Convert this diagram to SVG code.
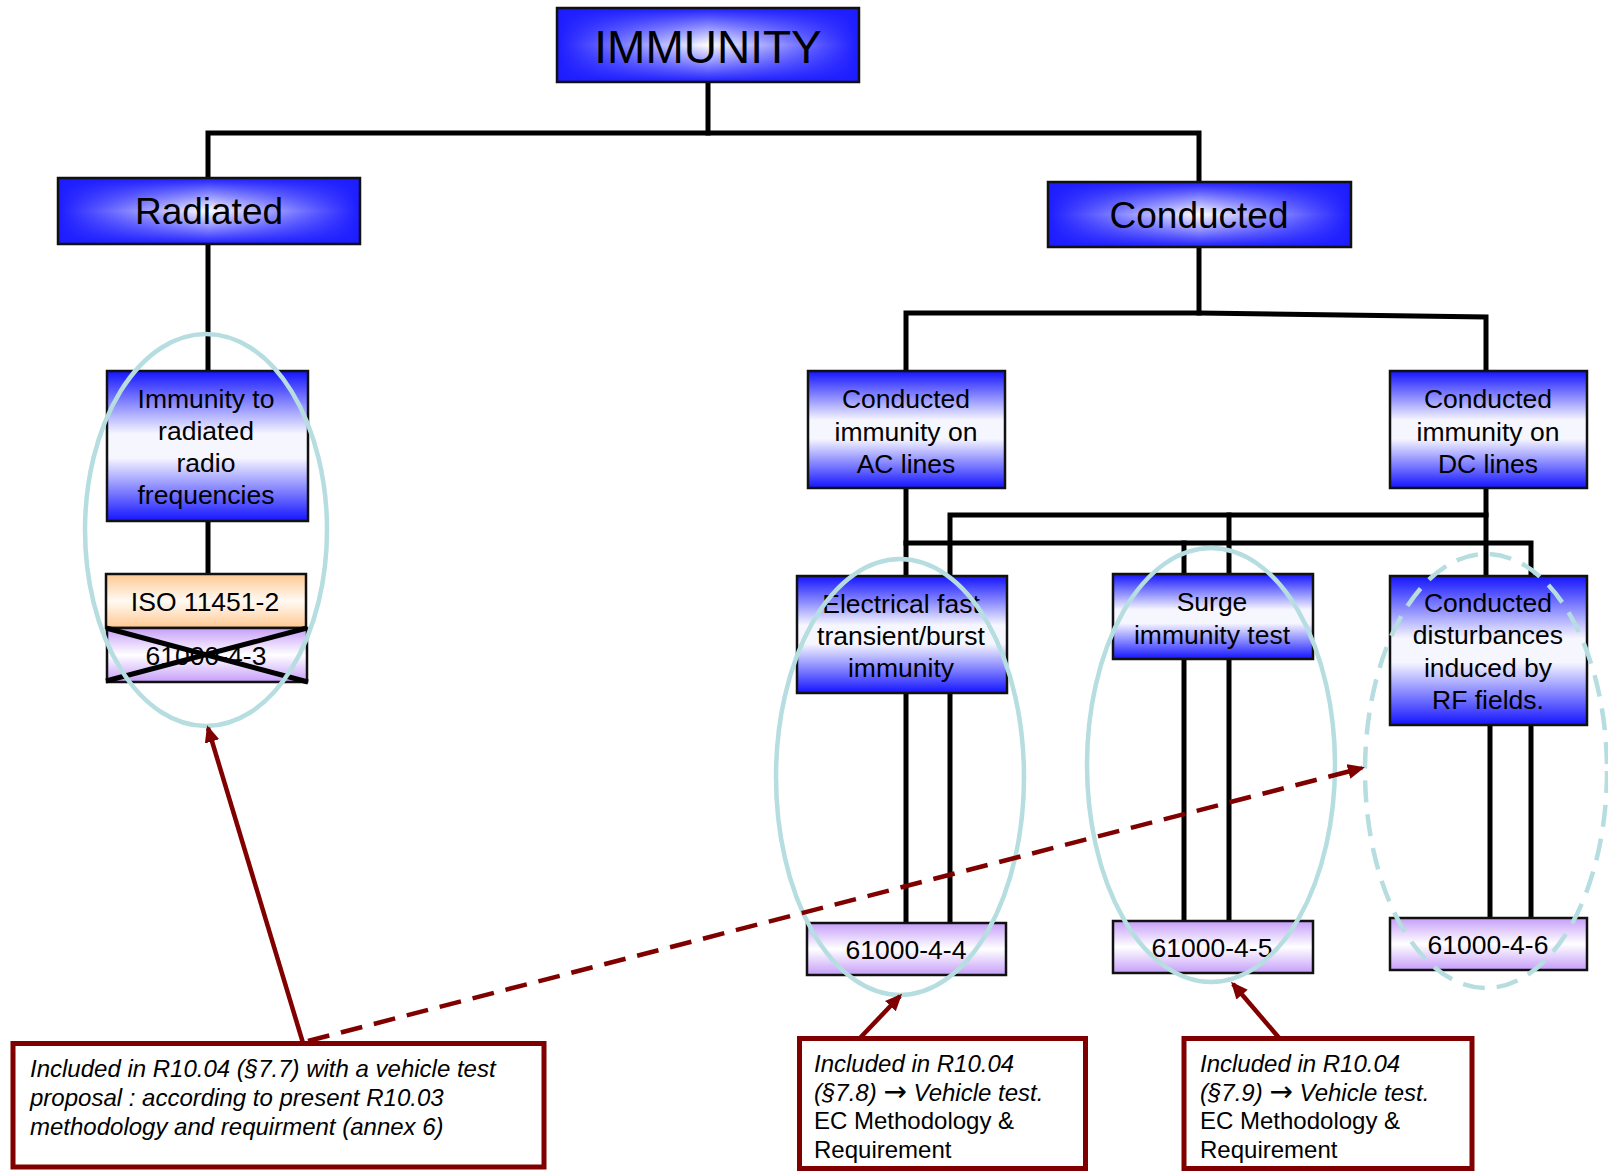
<svg xmlns="http://www.w3.org/2000/svg" width="1608" height="1171" viewBox="0 0 1608 1171">
<style>
.ln{stroke:#000;stroke-width:5;fill:none;stroke-linecap:square;stroke-linejoin:miter}
.bx{stroke:#111;stroke-width:2.5}
.t{font-family:"Liberation Sans",Arial,sans-serif;text-anchor:middle;fill:#000}
.s{font-size:26.5px}
.big{font-size:37px}
.ell{fill:none;stroke:#b6dde0;stroke-width:4.5}
.dash{stroke-dasharray:22 12}
.red{stroke:#800000;stroke-width:4.5;fill:none}
.call{fill:#fff;stroke:#800000;stroke-width:5}
.ct{font-family:"Liberation Sans",Arial,sans-serif;font-size:24px;fill:#000}
.it{font-style:italic}
.arr{font-family:"DejaVu Sans",sans-serif;font-style:normal;font-size:28px}
.cross{stroke:#000;stroke-width:5}
</style>
<defs>
<linearGradient id="hB" x1="0" y1="0" x2="1" y2="0">
<stop offset="0" stop-color="#1c1cff"/><stop offset="0.5" stop-color="#ffffff"/><stop offset="1" stop-color="#1c1cff"/>
</linearGradient>
<linearGradient id="vBa" x1="0" y1="0" x2="0" y2="1">
<stop offset="0" stop-color="#1c1cff" stop-opacity="1"/><stop offset="0.5" stop-color="#1c1cff" stop-opacity="0"/><stop offset="1" stop-color="#1c1cff" stop-opacity="1"/>
</linearGradient>
<linearGradient id="vB" x1="0" y1="0" x2="0" y2="1">
<stop offset="0" stop-color="#1414ff"/><stop offset="0.42" stop-color="#f6f6ff"/><stop offset="0.58" stop-color="#f6f6ff"/><stop offset="1" stop-color="#1414ff"/>
</linearGradient>
<linearGradient id="vP" x1="0" y1="0" x2="0" y2="1">
<stop offset="0" stop-color="#c69ef9"/><stop offset="0.5" stop-color="#ffffff"/><stop offset="1" stop-color="#c69ef9"/>
</linearGradient>
<linearGradient id="vO" x1="0" y1="0" x2="0" y2="1">
<stop offset="0" stop-color="#ffc891"/><stop offset="0.5" stop-color="#fffaf4"/><stop offset="1" stop-color="#ffc891"/>
</linearGradient>
<marker id="ah" markerUnits="userSpaceOnUse" markerWidth="18" markerHeight="16" refX="14" refY="7.5" orient="auto">
<path d="M0,0 L17,7.5 L0,15 z" fill="#800000"/>
</marker>
</defs>

<g id="connectors">
<path class="ln" d="M708 82 V133"/>
<path class="ln" d="M208 178 V133 H1199 V182"/>
<path class="ln" d="M208 244 V371"/>
<path class="ln" d="M208 521 V574"/>
<path class="ln" d="M1199 247 V313"/>
<path class="ln" d="M906 371 V313 H1199 L1486 317 V371"/>
<path class="ln" d="M906 488 V576"/>
<path class="ln" d="M1486 488 V576"/>
<path class="ln" d="M950 576 V515 H1486"/>
<path class="ln" d="M906 543 H1531 V576"/>
<path class="ln" d="M1184 543 V574"/>
<path class="ln" d="M1229 515 V574"/>
<path class="ln" d="M906 693 V923"/>
<path class="ln" d="M950 693 V923"/>
<path class="ln" d="M1184 659 V921"/>
<path class="ln" d="M1229 659 V921"/>
<path class="ln" d="M1490 725 V918"/>
<path class="ln" d="M1531 725 V918"/>
</g>

<g id="node-immunity">
<rect x="557" y="8" width="302" height="74" fill="url(#hB)"/>
<rect class="bx" x="557" y="8" width="302" height="74" fill="url(#vBa)"/>
<text class="t" x="708" y="63" font-size="46">IMMUNITY</text>
</g>
<g id="node-radiated">
<rect x="58" y="178" width="302" height="66" fill="url(#hB)"/>
<rect class="bx" x="58" y="178" width="302" height="66" fill="url(#vBa)"/>
<text class="t big" x="209" y="224">Radiated</text>
</g>
<g id="node-conducted">
<rect x="1048" y="182" width="303" height="65" fill="url(#hB)"/>
<rect class="bx" x="1048" y="182" width="303" height="65" fill="url(#vBa)"/>
<text class="t big" x="1199" y="228">Conducted</text>
</g>
<g id="node-radiated-rf">
<rect class="bx" x="107" y="371" width="201" height="150" fill="url(#vB)"/>
<text class="t s" x="206"><tspan x="206" y="408">Immunity to</tspan><tspan x="206" y="440">radiated</tspan><tspan x="206" y="472">radio</tspan><tspan x="206" y="504">frequencies</tspan></text>
</g>
<g id="node-ac">
<rect class="bx" x="808" y="371" width="197" height="117" fill="url(#vB)"/>
<text class="t s" x="906"><tspan x="906" y="408">Conducted</tspan><tspan x="906" y="441">immunity on</tspan><tspan x="906" y="473">AC lines</tspan></text>
</g>
<g id="node-dc">
<rect class="bx" x="1390" y="371" width="197" height="117" fill="url(#vB)"/>
<text class="t s" x="1488"><tspan x="1488" y="408">Conducted</tspan><tspan x="1488" y="441">immunity on</tspan><tspan x="1488" y="473">DC lines</tspan></text>
</g>
<g id="node-iso">
<rect class="bx" x="106" y="574" width="200" height="54" fill="url(#vO)"/>
<text class="t s" x="205" y="611">ISO 11451-2</text>
</g>
<g id="node-61000-4-3">
<rect class="bx" x="107" y="628" width="200" height="54" fill="url(#vP)"/>
<text class="t s" x="206" y="665">61000-4-3</text>
<line class="cross" x1="106" y1="628" x2="308" y2="682"/>
<line class="cross" x1="307" y1="628" x2="106" y2="681"/>
</g>
<g id="node-eft">
<rect class="bx" x="797" y="576" width="210" height="117" fill="url(#vB)"/>
<text class="t s" x="901"><tspan x="901" y="613">Electrical fast</tspan><tspan x="901" y="645">transient/burst</tspan><tspan x="901" y="677">immunity</tspan></text>
</g>
<g id="node-surge">
<rect class="bx" x="1113" y="574" width="200" height="85" fill="url(#vB)"/>
<text class="t s" x="1212"><tspan x="1212" y="611">Surge</tspan><tspan x="1212" y="644">immunity test</tspan></text>
</g>
<g id="node-rf">
<rect class="bx" x="1390" y="576" width="197" height="149" fill="url(#vB)"/>
<text class="t s" x="1488"><tspan x="1488" y="612">Conducted</tspan><tspan x="1488" y="644">disturbances</tspan><tspan x="1488" y="677">induced by</tspan><tspan x="1488" y="709">RF fields.</tspan></text>
</g>
<g id="node-61000-4-4">
<rect class="bx" x="807" y="923" width="199" height="52" fill="url(#vP)"/>
<text class="t s" x="906" y="959">61000-4-4</text>
</g>
<g id="node-61000-4-5">
<rect class="bx" x="1113" y="921" width="200" height="52" fill="url(#vP)"/>
<text class="t s" x="1212" y="957">61000-4-5</text>
</g>
<g id="node-61000-4-6">
<rect class="bx" x="1390" y="918" width="197" height="52" fill="url(#vP)"/>
<text class="t s" x="1488" y="954">61000-4-6</text>
</g>

<g id="highlights">
<ellipse class="ell" cx="206" cy="530" rx="121" ry="196"/>
<ellipse class="ell" cx="900" cy="777" rx="124" ry="218"/>
<ellipse class="ell" cx="1211" cy="765" rx="124" ry="217"/>
<ellipse class="ell dash" cx="1486" cy="771" rx="121" ry="217"/>
</g>

<g id="callout-arrows">
<line class="red" x1="303" y1="1043" x2="208" y2="728" marker-end="url(#ah)"/>
<line class="red dash" x1="308" y1="1041" x2="1362" y2="768" marker-end="url(#ah)"/>
<line class="red" x1="860" y1="1038" x2="900" y2="996" marker-end="url(#ah)"/>
<line class="red" x1="1280" y1="1039" x2="1233" y2="984" marker-end="url(#ah)"/>
</g>

<g id="note-radiated">
<rect class="call" x="13" y="1043.5" width="531" height="123.5"/>
<text class="ct it"><tspan x="30" y="1077">Included in R10.04 (§7.7) with a vehicle test</tspan><tspan x="30" y="1106">proposal : according to present R10.03</tspan><tspan x="30" y="1135">methodology and requirment (annex 6)</tspan></text>
</g>
<g id="note-eft">
<rect class="call" x="799.5" y="1038.5" width="286" height="130"/>
<text class="ct"><tspan class="it" x="814" y="1072">Included in R10.04</tspan><tspan class="it" x="814" y="1101">(§7.8) </tspan><tspan class="arr">→</tspan><tspan class="it"> Vehicle test.</tspan><tspan x="814" y="1129">EC Methodology &amp;</tspan><tspan x="814" y="1158">Requirement</tspan></text>
</g>
<g id="note-surge">
<rect class="call" x="1184" y="1038.5" width="288" height="130"/>
<text class="ct"><tspan class="it" x="1200" y="1072">Included in R10.04</tspan><tspan class="it" x="1200" y="1101">(§7.9) </tspan><tspan class="arr">→</tspan><tspan class="it"> Vehicle test.</tspan><tspan x="1200" y="1129">EC Methodology &amp;</tspan><tspan x="1200" y="1158">Requirement</tspan></text>
</g>
</svg>
